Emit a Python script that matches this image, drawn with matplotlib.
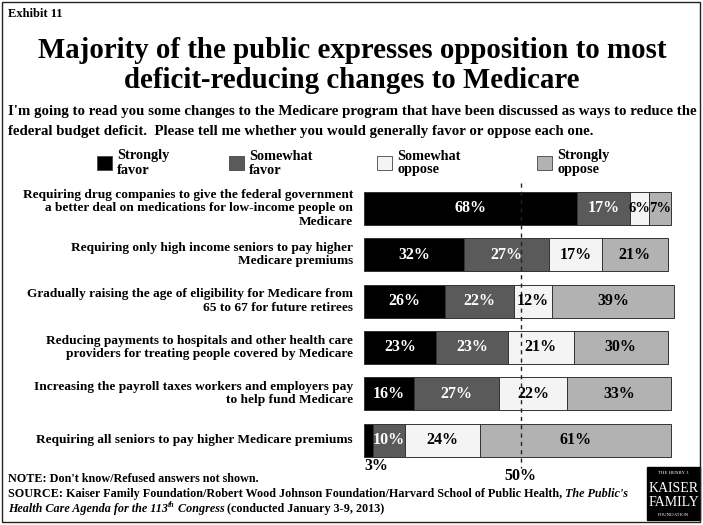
import matplotlib
matplotlib.use("Agg")
import matplotlib.pyplot as plt
from matplotlib.patches import Rectangle
import numpy as np

# ---- data ----
items = [
    "Requiring drug companies to give the federal government\na better deal on medications for low-income people on\nMedicare",
    "Requiring only high income seniors to pay higher\nMedicare premiums",
    "Gradually raising the age of eligibility for Medicare from\n65 to 67 for future retirees",
    "Reducing payments to hospitals and other health care\nproviders for treating people covered by Medicare",
    "Increasing the payroll taxes workers and employers pay\nto help fund Medicare",
    "Requiring all seniors to pay higher Medicare premiums",
]
strongly_favor = [68, 32, 26, 23, 16, 3]
somewhat_favor = [17, 27, 22, 23, 27, 10]
somewhat_oppose = [6, 17, 12, 21, 22, 24]
strongly_oppose = [7, 21, 39, 30, 33, 61]
series_names = ["Strongly\nfavor", "Somewhat\nfavor", "Somewhat\noppose", "Strongly\noppose"]

colors = ["#000000", "#5a5a5a", "#f4f4f4", "#b2b2b2"]
text_colors = ["white", "white", "black", "black"]

W, H = 703, 525
plt.rcParams["font.family"] = ["Liberation Serif", "DejaVu Serif"]
plt.rcParams["font.weight"] = "bold"

fig = plt.figure(figsize=(W / 100, H / 100), dpi=100)


def fx(px):
    return px / W


def fy(py):
    return 1 - py / H


# header
fig.text(fx(8), fy(14), "Exhibit 11", fontsize=9, fontweight="bold", va="center")
fig.text(fx(352), fy(50), "Majority of the public expresses opposition to most",
         fontsize=20.8, fontweight="bold", ha="center", va="center")
fig.text(fx(352), fy(80), "deficit-reducing changes to Medicare",
         fontsize=20.8, fontweight="bold", ha="center", va="center")
fig.text(fx(8), fy(112), "I'm going to read you some changes to the Medicare program that have been discussed as ways to reduce the",
         fontsize=10.7, fontweight="bold", va="center")
fig.text(fx(8), fy(131), "federal budget deficit.  Please tell me whether you would generally favor or oppose each one.",
         fontsize=10.7, fontweight="bold", va="center")

# legend
leg_box_x = [97, 229, 377, 537]
for bx, name, c in zip(leg_box_x, series_names, colors):
    fig.patches.append(Rectangle((fx(bx), fy(170)), fx(15), 14 / H, facecolor=c,
                                 edgecolor="#444444", linewidth=0.6,
                                 transform=fig.transFigure))
    fig.text(fx(bx + 20), fy(163), name, fontsize=10.3, fontweight="bold",
             va="center", linespacing=1.1)

# bars
ax = fig.add_axes([fx(364), fy(463.3), 313 / W, 278 / H])
y = np.arange(len(items))
data = [strongly_favor, somewhat_favor, somewhat_oppose, strongly_oppose]
left = np.zeros(len(items))
for vals, c, tc in zip(data, colors, text_colors):
    vals = np.array(vals, dtype=float)
    ax.barh(y, vals, left=left, height=0.71, color=c, edgecolor="#333333", linewidth=0.7)
    for i, (l, v) in enumerate(zip(left, vals)):
        if v >= 5:
            ax.text(l + v / 2, i, f"{int(v)}%", ha="center", va="center",
                    color=tc, fontsize=11.5 if v >= 8 else 10.5, fontweight="bold")
    left += vals

ax.set_xlim(0, 100)
ax.set_ylim(len(items) - 0.5, -0.5)
ax.axis("off")
ax.plot([50, 50], [-0.55, 5.6], color="#222222", lw=1.0, ls=(0, (3, 3)), clip_on=False)
ax.text(50, 5.77, "50%", ha="center", va="center", fontsize=11.5, fontweight="bold")
ax.text(0, 5.56, "3%", ha="left", va="center", fontsize=11.5, fontweight="bold")

for i, lab in enumerate(items):
    ax.text(-3.5, i, lab, ha="right", va="center", fontsize=9.6, fontweight="bold",
            multialignment="right", linespacing=1.15)

# footnotes with mixed styles
renderer = fig.canvas.get_renderer()


def run(pieces, x0, ypx, size=8.7):
    x = fx(x0)
    for txt, style, kind in pieces:
        fs = size * 0.65 if kind == "sup" else size
        yy = fy(ypx) + (4 / H if kind == "sup" else 0)
        t = fig.text(x, yy, txt, fontsize=fs, fontweight="bold", fontstyle=style, va="center")
        x += t.get_window_extent(renderer).width / W


run([("NOTE: Don't know/Refused answers not shown.", "normal", "")], 8, 479)
run([("SOURCE: Kaiser Family Foundation/Robert Wood Johnson Foundation/Harvard School of Public Health, ", "normal", ""),
     ("The Public's", "italic", "")], 8, 494)
run([("Health Care Agenda for the 113", "italic", ""), ("th", "italic", "sup"),
     (" Congress", "italic", ""), (" (conducted January 3-9, 2013)", "normal", "")], 8, 509)

# logo
fig.patches.append(Rectangle((fx(647), fy(520)), fx(53), 53 / H, facecolor="black",
                             edgecolor="black", transform=fig.transFigure))
fig.text(fx(673.5), fy(473), "THE HENRY J.", color="white", fontsize=3.5, ha="center", va="center", fontweight="normal")
fig.text(fx(673.5), fy(488), "KAISER", color="white", fontsize=10, ha="center", va="center", fontweight="normal")
fig.text(fx(673.5), fy(503), "FAMILY", color="white", fontsize=10, ha="center", va="center", fontweight="normal")
fig.text(fx(673.5), fy(515), "FOUNDATION", color="white", fontsize=3.5, ha="center", va="center", fontweight="normal")

# frame
fig.patches.append(Rectangle((fx(2), fy(522)), fx(698), 520 / H, facecolor="none",
                             edgecolor="#222222", linewidth=1.0, transform=fig.transFigure))

fig.savefig("out.png", dpi=100)
